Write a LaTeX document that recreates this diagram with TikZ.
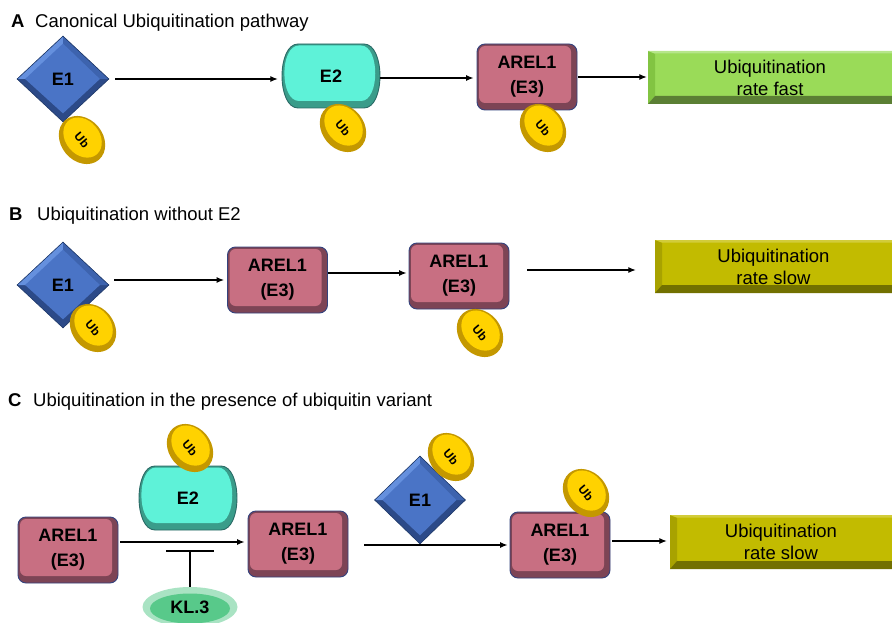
\documentclass[tikz,border=0pt]{standalone}
\usepackage{fontspec}
\setmainfont{Liberation Sans}
\usetikzlibrary{arrows.meta,shapes.geometric,calc}
\definecolor{e1face}{HTML}{4A74C6}
\definecolor{e1light}{HTML}{6590DE}
\definecolor{e1mid}{HTML}{3D63AE}
\definecolor{e1dark}{HTML}{2C4A88}
\definecolor{e1border}{HTML}{1E3868}
\definecolor{e2face}{HTML}{5EF2D8}
\definecolor{e2dark}{HTML}{3A9C8A}
\definecolor{e2border}{HTML}{2A6A66}
\definecolor{arelface}{HTML}{C86F82}
\definecolor{areldark}{HTML}{7D4455}
\definecolor{arelborder}{HTML}{34437E}
\definecolor{ubface}{HTML}{FFD200}
\definecolor{ubrim}{HTML}{C49800}
\definecolor{gface}{HTML}{9ADB58}
\definecolor{gleft}{HTML}{82C442}
\definecolor{gbottom}{HTML}{5B7F34}
\definecolor{gtop}{HTML}{B6E68A}
\definecolor{oface}{HTML}{C2BB00}
\definecolor{oleft}{HTML}{A8A200}
\definecolor{obottom}{HTML}{727000}
\definecolor{otop}{HTML}{D2CC3A}
\definecolor{klface}{HTML}{58C98A}
\definecolor{klrim}{HTML}{A9E3C3}
\newcommand\myfont{\fontsize{18}{22}\selectfont}
% barrel shape (E2): center x, center y
\newcommand\barrelshape[2]{%
  \path[fill=e2dark, draw=e2border, line width=0.9pt]
    ({#1-33},{#2-32}) -- ({#1+33},{#2-32})
    .. controls ({#1+54.3},{#2-32}) and ({#1+54.3},{#2+32}) .. ({#1+33},{#2+32})
    -- ({#1-33},{#2+32})
    .. controls ({#1-54.3},{#2+32}) and ({#1-54.3},{#2-32}) .. cycle;
  \fill[e2face]
    ({#1-32},{#2-30.5}) -- ({#1+30},{#2-30.5})
    .. controls ({#1+49},{#2-30.5}) and ({#1+49},{#2+25}) .. ({#1+30},{#2+25})
    -- ({#1-32},{#2+25})
    .. controls ({#1-51.5},{#2+25}) and ({#1-51.5},{#2-30.5}) .. cycle;}
% Ub coin: [angle]{name}{x}{y}
\newcommand\ubcoin[4][-50]{%
  \fill[ubrim, rotate around={#1:(#3,#4)}] (#3,#4) ellipse (26 and 21);
  \fill[ubface, rotate around={#1:(#3,#4)}] ({#3-1.5},{#4-2}) ellipse (22 and 17);
  \node[ubtext, rotate=#1] (#2) at (#3,#4) {Ub};}
\begin{document}
\begin{tikzpicture}[x=1pt,y=-1pt,
  head/.style={inner sep=0, font=\fontsize{18.5}{22}\selectfont},
  arr/.style={-{Latex[length=7.5pt,width=6pt]}, line width=1.1pt},
  inh/.style={line width=1.6pt},
  ubtext/.style={inner sep=0, font=\bfseries\fontsize{12}{14}\selectfont},
  eone/.style={diamond, minimum width=92pt, minimum height=86pt, inner sep=0,
    fill=e1dark, draw=e1border, line width=0.6pt, font=\bfseries\myfont,
    path picture={
      \fill[e1light] (path picture bounding box.west) -- (path picture bounding box.north) -- (path picture bounding box.center) -- cycle;
      \fill[e1mid] (path picture bounding box.north) -- (path picture bounding box.east) -- (path picture bounding box.center) -- cycle;
      \fill[e1face] ([xshift=8pt]path picture bounding box.west) -- ([yshift=-7.5pt]path picture bounding box.north) -- ([xshift=-9pt]path picture bounding box.east) -- ([yshift=8.5pt]path picture bounding box.south) -- cycle;}},
  etwo/.style={rectangle, minimum width=98pt, minimum height=64pt, inner sep=0,
    font=\bfseries\myfont},
  arel/.style={rectangle, rounded corners=8pt, minimum width=100pt, minimum height=66pt, inner sep=0,
    fill=areldark, draw=arelborder, line width=0.9pt, align=center,
    font=\bfseries\fontsize{18}{25}\selectfont,
    path picture={\fill[arelface, rounded corners=6pt] ([shift={(2pt,-2pt)}]path picture bounding box.north west) rectangle ([shift={(-6pt,7pt)}]path picture bounding box.south east);}},
  rate/.style n args={4}{rectangle, inner sep=0, minimum height=53pt, align=center,
    font=\fontsize{18.5}{22}\selectfont, fill=#1,
    path picture={
      \fill[#2] (path picture bounding box.north west) -- ([shift={(7pt,-3pt)}]path picture bounding box.north west) -- ([shift={(7pt,8pt)}]path picture bounding box.south west) -- (path picture bounding box.south west) -- cycle;
      \fill[#3] (path picture bounding box.south west) -- ([shift={(7pt,8pt)}]path picture bounding box.south west) -- ([shift={(0pt,8pt)}]path picture bounding box.south east) -- (path picture bounding box.south east) -- cycle;
      \fill[#4] (path picture bounding box.north west) -- (path picture bounding box.north east) -- ([shift={(0pt,-2.5pt)}]path picture bounding box.north east) -- ([shift={(7pt,-2.5pt)}]path picture bounding box.north west) -- cycle;}},
  kl/.style={ellipse, minimum width=95pt, minimum height=40pt, inner sep=0,
    fill=klrim, font=\bfseries\myfont,
    path picture={\fill[klface] ([yshift=-1.5pt]path picture bounding box.center) ellipse (40pt and 15pt);}}
]
\useasboundingbox (0,0) rectangle (892,623);
\clip (0,0) rectangle (892,623);

% ---------- Panel A ----------
\node[head, anchor=base west] (ha) at (11,28) {\bfseries A};
\node[head, anchor=base west] (hat) at (35,28) {Canonical Ubiquitination pathway};
\node[eone] (a1) at (63,79) {E1};
\ubcoin{a1ub}{82}{140}
\barrelshape{331}{76}
\node[etwo] (a2) at (331,76) {E2};
\ubcoin{a2ub}{343}{128}
\node[arel] (a3) at (527,77) {AREL1\\(E3)};
\ubcoin{a3ub}{543}{128}
\node[rate={gface}{gleft}{gbottom}{gtop}, minimum width=244pt] (a4) at (770,77.5) {Ubiquitination\\rate fast};
\draw[arr] ($(a1.east)+(6,0)$) -- ($(a1.east -| a2.west)+(-4,0)$);
\draw[arr] ($(a2.east)+(0,2)$) -- ($(a2.east -| a3.west)+(-3,2)$);
\draw[arr] ($(a3.east)+(1,0)$) -- ($(a3.east -| a4.west)+(-1,0)$);

% ---------- Panel B ----------
\node[head, anchor=base west] (hb) at (9,220) {\bfseries B};
\node[head, anchor=base west] (hbt) at (37,220) {Ubiquitination without E2};
\node[eone] (b1) at (63,285) {E1};
\ubcoin{b1ub}{93}{328}
\node[arel] (b2) at (277.5,280) {AREL1\\(E3)};
\node[arel] (b3) at (459,276) {AREL1\\(E3)};
\ubcoin{b3ub}{480}{333}
\node[rate={oface}{oleft}{obottom}{otop}, minimum width=237pt] (b4) at (773.5,266.5) {Ubiquitination\\rate slow};
\draw[arr] ($(b1.east)+(5,-5)$) -- ($(b2.west)+(-3,0)$);
\draw[arr] ($(b2.east)+(0,-7)$) -- ($(b3.west)+(-2,-3)$);
\draw[arr] ($(b3.east)+(18,-6)$) -- ($(b3.east -| b4.west)+(-19,-6)$);

% ---------- Panel C ----------
\node[head, anchor=base west] (hc) at (8,406) {\bfseries C};
\node[head, anchor=base west] (hct) at (33,406) {Ubiquitination in the presence of ubiquitin variant};
\node[arel] (c1) at (68,550) {AREL1\\(E3)};
\barrelshape{188}{498}
\node[etwo] (c2) at (188,498) {E2};
\ubcoin{c2ub}{190}{448}
\node[arel] (c3) at (298,544) {AREL1\\(E3)};
\node[eone, minimum width=91pt, minimum height=88pt] (c4) at (420,500) {E1};
\ubcoin{c4ub}{451}{457}
\node[arel] (c5) at (560,545) {AREL1\\(E3)};
\ubcoin{c5ub}{586}{493}
\node[rate={oface}{oleft}{obottom}{otop}, minimum width=222pt, minimum height=54pt] (c6) at (781,542) {Ubiquitination\\rate slow};
\node[kl] (kl) at (190,607) {KL.3};
\coordinate (tbar) at (190,551);
\draw[arr] ($(c1.east)+(2,-8)$) -- ($(c3.west)+(-3,-2)$);
\draw[arr] ($(c3.east)+(16,1)$) -- ($(c5.west)+(-2,0)$);
\draw[arr] ($(c5.east)+(2,-4)$) -- ($(c5.east -| c6.west)+(-3,-4)$);
\draw[inh] (kl.north) -- (tbar);
\draw[inh] ($(tbar)+(-24,0)$) -- ($(tbar)+(24,0)$);
\end{tikzpicture}
\end{document}
